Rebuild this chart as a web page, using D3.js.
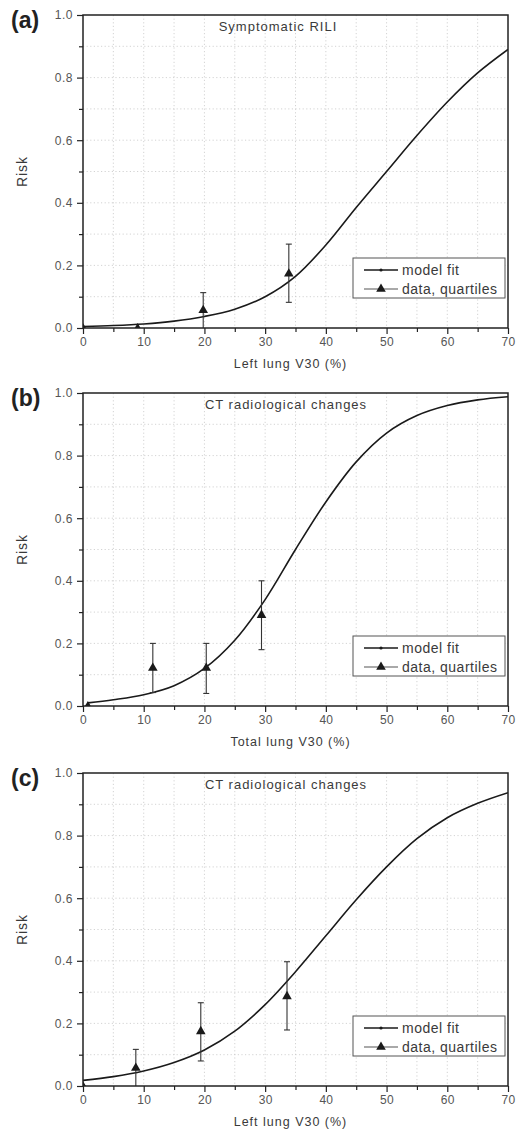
<!DOCTYPE html>
<html>
<head>
<meta charset="utf-8">
<script src="https://cdn.jsdelivr.net/npm/d3@7"></script>
<style>
  html, body { margin: 0; padding: 0; background: #fff; }
  svg { display: block; font-family: "Liberation Sans", Arial, sans-serif; }
</style>
</head>
<body>
<svg id="chart" width="519" height="1131"></svg>
<script>
// ---------- data ----------
const panelLabels = ["(a)", "(b)", "(c)"];
const panelTitles = ["Symptomatic RILI", "CT radiological changes", "CT radiological changes"];
const xTitles = ["Left lung V30 (%)", "Total lung V30 (%)", "Left lung V30 (%)"];
const yTitle = "Risk";
const legendLabels = ["model fit", "data, quartiles"];
const xTickValues = [0, 10, 20, 30, 40, 50, 60, 70];
const yTickValues = [0.0, 0.2, 0.4, 0.6, 0.8, 1.0];

// model fit curves
const fitXA = [0, 5, 10, 15, 20, 25, 30, 35, 40, 45, 50, 55, 60, 65, 70];
const fitYA = [0.005, 0.008, 0.013, 0.022, 0.037, 0.06, 0.10, 0.165, 0.265, 0.385, 0.50, 0.615, 0.722, 0.815, 0.89];
const fitXB = [0.8, 5, 10, 15, 20, 25, 30, 35, 40, 45, 50, 55, 60, 65, 70];
const fitYB = [0.01, 0.02, 0.036, 0.065, 0.12, 0.21, 0.34, 0.50, 0.652, 0.78, 0.872, 0.928, 0.96, 0.978, 0.988];
const fitXC = [0, 5, 10, 15, 20, 25, 30, 35, 40, 45, 50, 55, 60, 65, 70];
const fitYC = [0.018, 0.03, 0.048, 0.075, 0.115, 0.175, 0.26, 0.365, 0.48, 0.595, 0.70, 0.79, 0.857, 0.903, 0.937];

// quartile data points with error bars
const dataXA = [0, 9, 19.8, 33.9];
const dataYA = [0, 0, 0.058, 0.175];
const errLoA = [0, 0, 0, 0.082];
const errHiA = [0, 0, 0.113, 0.268];

const dataXB = [0.8, 11.5, 20.3, 29.4];
const dataYB = [0, 0.123, 0.123, 0.292];
const errLoB = [0, 0.043, 0.04, 0.18];
const errHiB = [0, 0.2, 0.2, 0.4];

const dataXC = [0, 8.7, 19.4, 33.6];
const dataYC = [0, 0.059, 0.176, 0.288];
const errLoC = [0, 0, 0.08, 0.179];
const errHiC = [0, 0.117, 0.266, 0.397];

const fits = [[fitXA, fitYA], [fitXB, fitYB], [fitXC, fitYC]];
const datas = [[dataXA, dataYA, errLoA, errHiA], [dataXB, dataYB, errLoB, errHiB], [dataXC, dataYC, errLoC, errHiC]];

// ---------- layout ----------
const svg = d3.select("#chart");
const plotLeft = 83, plotRight = 508;
const panelTops = [15, 393, 773];
const plotH = 313;
const textCol = "#3a3a3a";
const tickCol = "#555";

const triangle = d3.symbol().type(d3.symbolTriangle).size(40);

panelTops.forEach((top, i) => {
  const bottom = top + plotH;
  const x = d3.scaleLinear().domain([0, 70]).range([plotLeft, plotRight]);
  const y = d3.scaleLinear().domain([0, 1]).range([bottom, top]);
  const g = svg.append("g");

  const clipId = "clip" + i;
  svg.append("clipPath").attr("id", clipId)
    .append("rect").attr("x", plotLeft).attr("y", top).attr("width", plotRight - plotLeft).attr("height", plotH);

  // grid (every minor tick)
  const gridX = d3.range(5, 70, 5);
  const gridY = d3.range(0.1, 1.0, 0.1);
  g.append("g").selectAll("line").data(gridX).join("line")
    .attr("x1", d => x(d)).attr("x2", d => x(d)).attr("y1", top).attr("y2", bottom)
    .attr("stroke", "#c8c8c8").attr("stroke-width", 0.8).attr("stroke-dasharray", "1.2,2.4");
  g.append("g").selectAll("line").data(gridY).join("line")
    .attr("y1", d => y(d)).attr("y2", d => y(d)).attr("x1", plotLeft).attr("x2", plotRight)
    .attr("stroke", "#c8c8c8").attr("stroke-width", 0.8).attr("stroke-dasharray", "1.2,2.4");

  // model fit curve
  const [fx, fy] = fits[i];
  const pts = fx.map((v, k) => [v, fy[k]]);
  g.append("path").datum(pts)
    .attr("clip-path", `url(#${clipId})`)
    .attr("d", d3.line().x(d => x(d[0])).y(d => y(d[1])).curve(d3.curveCatmullRom.alpha(0.5)))
    .attr("fill", "none").attr("stroke", "#1a1a1a").attr("stroke-width", 1.6);

  // data with error bars
  const [dx, dy, lo, hi] = datas[i];
  const dpts = dx.map((v, k) => ({ x: v, y: dy[k], lo: lo[k], hi: hi[k] }));
  const eg = g.append("g").attr("clip-path", `url(#${clipId})`);
  const withErr = dpts.filter(d => d.hi > d.lo);
  eg.selectAll("line.v").data(withErr).join("line").attr("class", "v")
    .attr("x1", d => x(d.x)).attr("x2", d => x(d.x)).attr("y1", d => y(d.lo)).attr("y2", d => y(d.hi))
    .attr("stroke", "#333").attr("stroke-width", 1.1);
  eg.selectAll("line.ct").data(withErr).join("line").attr("class", "ct")
    .attr("x1", d => x(d.x) - 3).attr("x2", d => x(d.x) + 3).attr("y1", d => y(d.hi)).attr("y2", d => y(d.hi))
    .attr("stroke", "#333").attr("stroke-width", 1.1);
  eg.selectAll("line.cb").data(withErr.filter(d => d.lo > 0)).join("line").attr("class", "cb")
    .attr("x1", d => x(d.x) - 3).attr("x2", d => x(d.x) + 3).attr("y1", d => y(d.lo)).attr("y2", d => y(d.lo))
    .attr("stroke", "#333").attr("stroke-width", 1.1);
  eg.selectAll("path.tri").data(dpts).join("path").attr("class", "tri")
    .attr("d", triangle)
    .attr("transform", d => `translate(${x(d.x)},${y(d.y) + 0.5})`)
    .attr("fill", "#1a1a1a");

  // axes
  const xAxis = d3.axisBottom(x).tickValues(xTickValues).tickSize(6).tickPadding(3).tickFormat(d3.format("d"));
  const xMinor = d3.axisBottom(x).tickValues(d3.range(5, 70, 10)).tickSize(4).tickFormat("");
  const yAxis = d3.axisLeft(y).tickValues(yTickValues).tickSize(6).tickPadding(4).tickFormat(d3.format(".1f"));
  const yMinor = d3.axisLeft(y).tickValues(d3.range(0.1, 1.0, 0.2)).tickSize(4).tickFormat("");

  const gx = g.append("g").attr("transform", `translate(0,${bottom})`).call(xAxis);
  g.append("g").attr("transform", `translate(0,${bottom})`).call(xMinor);
  const gy = g.append("g").attr("transform", `translate(${plotLeft},0)`).call(yAxis);
  g.append("g").attr("transform", `translate(${plotLeft},0)`).call(yMinor);

  g.selectAll(".domain").remove();
  g.selectAll(".tick line").attr("stroke", "#222").attr("stroke-width", 1.2);
  gx.selectAll(".tick text").attr("font-size", 12).attr("fill", tickCol)
    .style("font-family", "'Liberation Sans', Arial, sans-serif").attr("letter-spacing", "0.3px");
  gy.selectAll(".tick text").attr("font-size", 12).attr("fill", tickCol)
    .style("font-family", "'Liberation Sans', Arial, sans-serif").attr("letter-spacing", "0.5px");

  // frame
  g.append("rect").attr("x", plotLeft).attr("y", top).attr("width", plotRight - plotLeft).attr("height", plotH)
    .attr("fill", "none").attr("stroke", "#222").attr("stroke-width", 1.5);

  // title inside
  g.append("text").attr("x", 278 + (i > 0 ? 8 : 0)).attr("y", top + 16)
    .attr("text-anchor", "middle").attr("font-size", 13).attr("fill", textCol)
    .attr("letter-spacing", "1px")
    .text(panelTitles[i]);

  // panel label
  g.append("text").attr("x", 11).attr("y", top + 13)
    .attr("font-size", 23).attr("font-weight", "bold").attr("fill", "#222")
    .text(panelLabels[i]);

  // x title
  g.append("text").attr("x", (plotLeft + plotRight) / 2 - 5).attr("y", bottom + 40)
    .attr("text-anchor", "middle").attr("font-size", 12.5).attr("fill", textCol)
    .attr("letter-spacing", "1px")
    .text(xTitles[i]);

  // y title
  g.append("text")
    .attr("transform", `translate(27,${(top + bottom) / 2}) rotate(-90)`)
    .attr("text-anchor", "middle").attr("font-size", 14).attr("fill", textCol)
    .attr("letter-spacing", "1px")
    .text(yTitle);

  // legend
  const lw = 152, lh = 40;
  const lx = plotRight - 3 - lw, ly = bottom - 30 - lh;
  const lg = g.append("g").attr("transform", `translate(${lx},${ly})`);
  lg.append("rect").attr("width", lw).attr("height", lh)
    .attr("fill", "#fff").attr("stroke", "#555").attr("stroke-width", 1);
  // model fit entry
  lg.append("line").attr("x1", 11).attr("x2", 45).attr("y1", 12).attr("y2", 12)
    .attr("stroke", "#1a1a1a").attr("stroke-width", 1.6);
  lg.append("circle").attr("cx", 28).attr("cy", 12).attr("r", 1.6).attr("fill", "#1a1a1a");
  lg.append("text").attr("x", 49).attr("y", 17).attr("font-size", 14).attr("fill", textCol)
    .attr("letter-spacing", "0.5px").text(legendLabels[0]);
  // data entry
  lg.append("line").attr("x1", 11).attr("x2", 45).attr("y1", 31).attr("y2", 31)
    .attr("stroke", "#555").attr("stroke-width", 1.2);
  lg.append("path").attr("d", triangle).attr("transform", "translate(28,31)").attr("fill", "#1a1a1a");
  lg.append("text").attr("x", 49).attr("y", 36).attr("font-size", 14).attr("fill", textCol)
    .attr("letter-spacing", "0.5px").text(legendLabels[1]);
});
</script>
</body>
</html>
